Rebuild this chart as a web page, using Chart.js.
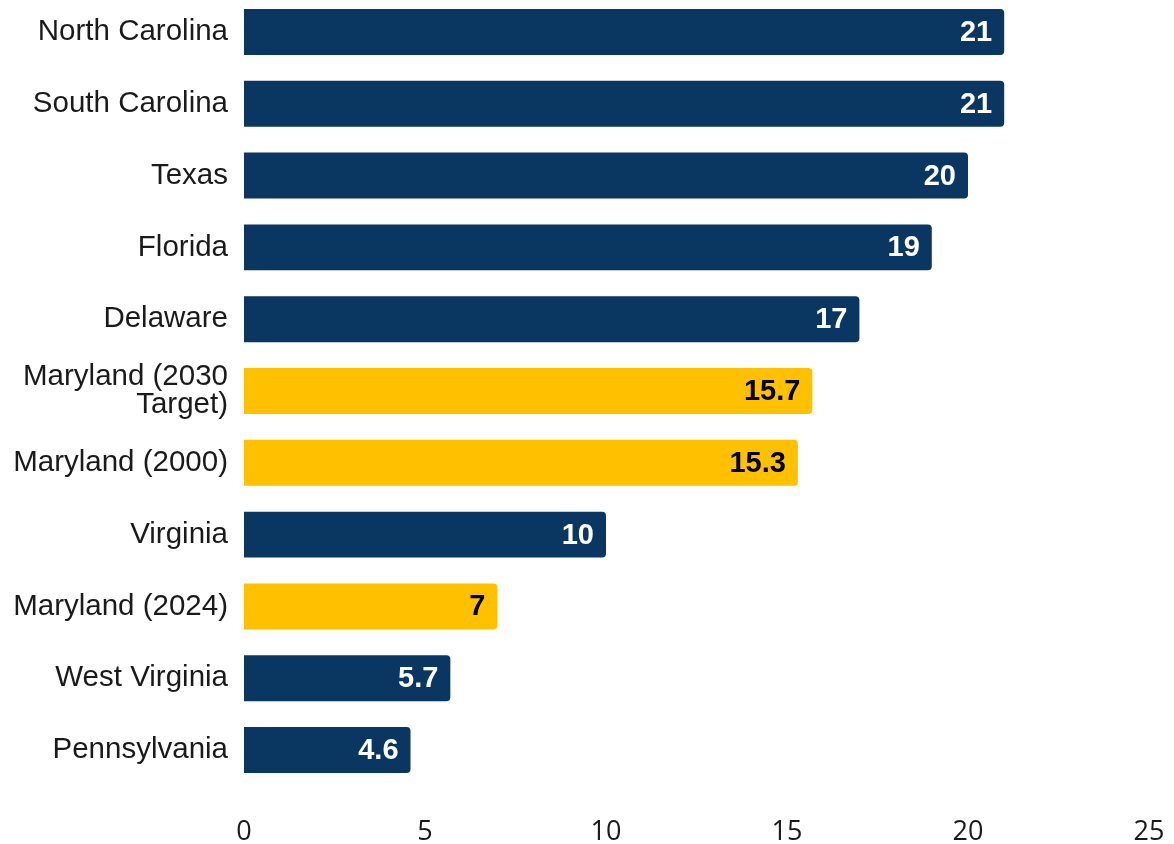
<!DOCTYPE html>
<html>
<head>
<meta charset="utf-8">
<script src="https://cdn.jsdelivr.net/npm/chart.js@4"></script>
<style>
  html, body { margin: 0; padding: 0; background: #fff; overflow: hidden; }
  #wrap { position: absolute; left: 0; top: -4px; width: 1174px; height: 848px; }
</style>
</head>
<body>
<div id="wrap"><canvas id="rateChart" width="1174" height="848"></canvas></div>
<script>
// States, ordered top to bottom
const states = [
  'North Carolina',
  'South Carolina',
  'Texas',
  'Florida',
  'Delaware',
  ['Maryland (2030', 'Target)'],
  'Maryland (2000)',
  'Virginia',
  'Maryland (2024)',
  'West Virginia',
  'Pennsylvania'
];
const rates = [21, 21, 20, 19, 17, 15.7, 15.3, 10, 7, 5.7, 4.6];
const xTicks = [0, 5, 10, 15, 20, 25];

const NAVY = '#0a3761';
const GOLD = '#ffc000';

// Maryland rows are drawn in gold
const isMaryland = states.map(s => [].concat(s)[0].startsWith('Maryland'));
const barColors = isMaryland.map(m => m ? GOLD : NAVY);
const labelColors = isMaryland.map(m => m ? '#000000' : '#ffffff');

// Draw each value just inside the end of its bar
const valueLabels = {
  id: 'valueLabels',
  afterDatasetsDraw(chart) {
    const ctx = chart.ctx;
    const meta = chart.getDatasetMeta(0);
    ctx.save();
    ctx.font = 'bold 29px "Liberation Sans", Arial, sans-serif';
    ctx.textAlign = 'right';
    ctx.textBaseline = 'middle';
    meta.data.forEach((bar, i) => {
      ctx.fillStyle = labelColors[i];
      ctx.fillText(String(rates[i]), bar.x - 12, bar.y + 1);
    });
    ctx.restore();
  }
};

const ctx = document.getElementById('rateChart').getContext('2d');
new Chart(ctx, {
  type: 'bar',
  data: {
    labels: states,
    datasets: [{
      data: rates,
      backgroundColor: barColors,
      borderRadius: 4,
      borderSkipped: 'start',
      barPercentage: 0.64,
      categoryPercentage: 1
    }]
  },
  options: {
    indexAxis: 'y',
    responsive: false,
    animation: false,
    layout: { padding: { left: 0, right: 25, top: 0, bottom: 0 } },
    plugins: {
      legend: { display: false },
      tooltip: { enabled: false }
    },
    scales: {
      x: {
        min: 0,
        max: 25,
        afterBuildTicks: scale => { scale.ticks = xTicks.map(v => ({ value: v })); },
        afterFit: scale => {
          scale.height = 58;
          scale.paddingLeft = 0;
          scale.paddingRight = 0;
        },
        grid: { display: false, drawTicks: false },
        border: { display: false },
        ticks: {
          padding: 30,
          color: '#1a1a1a',
          font: { family: '"Open Sans", sans-serif', size: 27 },
          maxRotation: 0
        }
      },
      y: {
        afterFit: scale => {
          scale.width = 244;
          scale.paddingTop = 0;
          scale.paddingBottom = 0;
        },
        grid: { display: false, drawTicks: false },
        border: { display: false },
        ticks: {
          padding: 16,
          color: '#1a1a1a',
          font: { family: '"Liberation Sans", Arial, sans-serif', size: 29.5, lineHeight: 0.93 }
        }
      }
    }
  },
  plugins: [valueLabels]
});
</script>
</body>
</html>
